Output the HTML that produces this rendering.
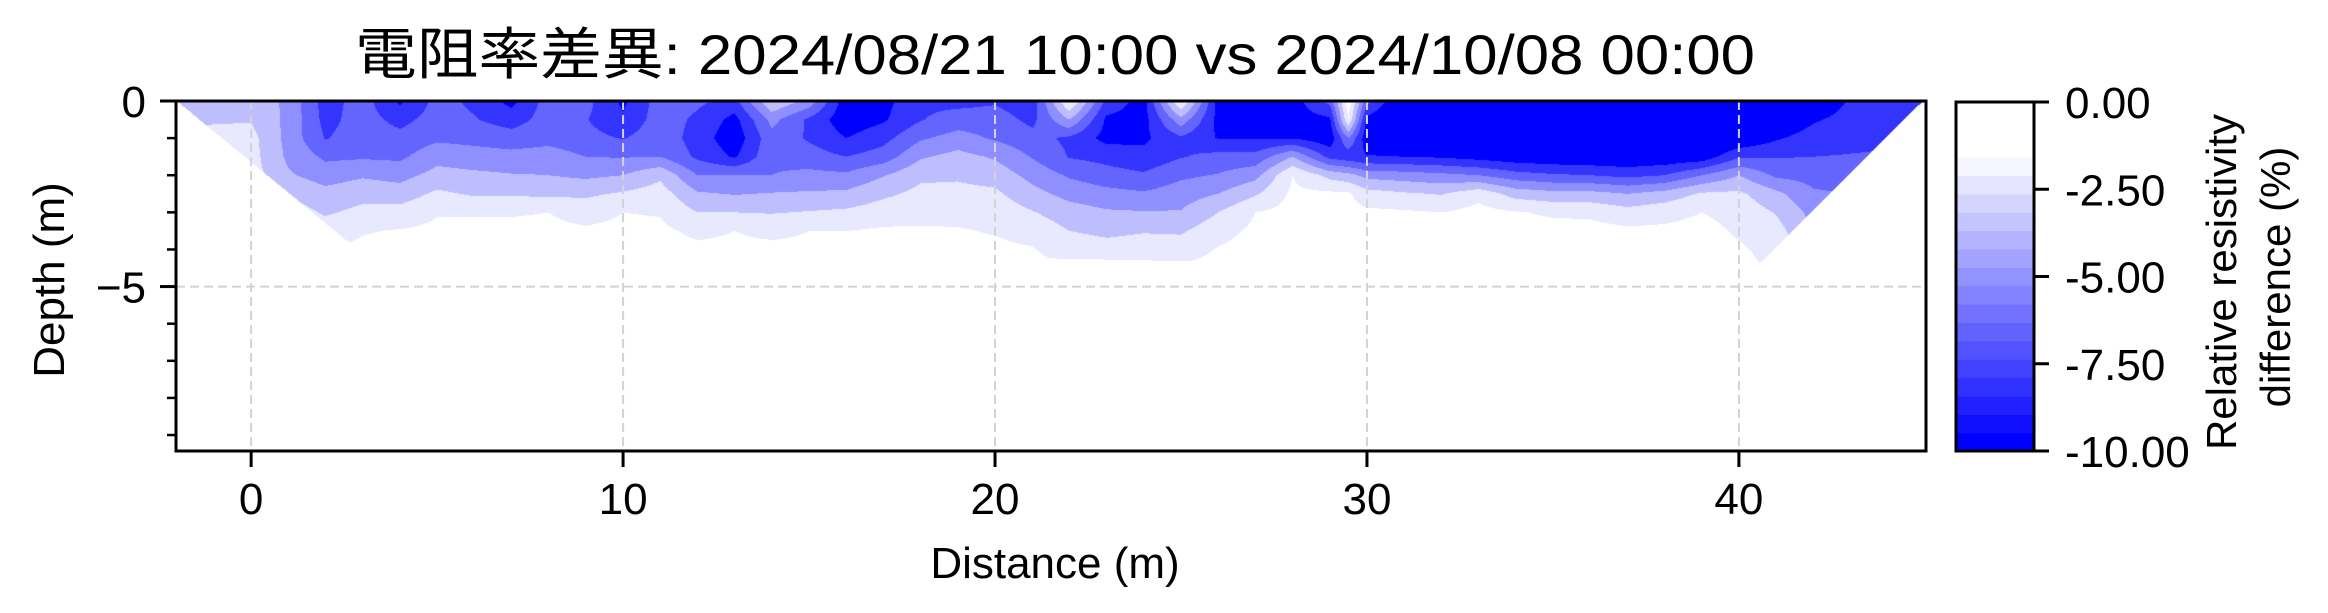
<!DOCTYPE html>
<html><head><meta charset="utf-8"><style>
html,body{margin:0;padding:0;background:#fff;}
#wrap{position:relative;width:2328px;height:613px;overflow:hidden;background:#fff;}
#field{position:absolute;left:176px;top:101px;}
svg{position:absolute;left:0;top:0;}
text{font-family:"Liberation Sans","Noto Sans CJK JP",sans-serif;fill:#000;}
</style></head><body>
<div id="wrap">
<canvas id="field" width="1750" height="350"></canvas>
<svg id="svg" width="2328" height="613"></svg>
</div>
<script>
const distances=[-2,-1,0,1,2,3,4,5,6,7,8,9,10,11,12,13,14,15,16,17,18,19,20,21,22,23,24,25,26,27,28,29,29.5,30,31,32,33,34,35,36,37,38,39,40,41,42,43,44,45];
const depths=[0,0.5,1,1.5,2,2.5,3,3.5,4,4.5];
const diffValues=[
[-3.6,-3.4,-3.0,-2.5,-2,-1.5,-1.2,-1,-1,-1],
[-3.6,-3.2,-2.4,-2.2,-2.0,-1.6,-1.2,-1,-1,-1],
[-3.6,-3.1,-2.5,-2.4,-2.3,-2.0,-1.5,-1,-1,-1],
[-4.8,-4.9,-5.0,-4.8,-4.3,-3.2,-2.2,-1.5,-1.2,-1],
[-8.2,-8.0,-7.6,-6.3,-5.2,-4.0,-3.2,-2.2,-1.5,-1.0],
[-6.8,-6.8,-6.7,-6.2,-4.7,-3.5,-2.6,-1.6,-1.2,-1.0],
[-9.3,-8.0,-7.0,-6.3,-5.0,-3.8,-2.4,-1.4,-1.0,-0.8],
[-7.0,-6.8,-6.3,-5.0,-4.0,-2.7,-1.6,-1.2,-1.0,-0.8],
[-7.8,-7.4,-6.5,-5.3,-4.2,-3.2,-1.6,-1.2,-1.0,-0.8],
[-9.5,-8.2,-6.8,-5.5,-4.4,-3.2,-1.6,-1.2,-1.0,-0.8],
[-6.8,-6.8,-6.5,-5.3,-4.5,-3.3,-1.5,-1.2,-1.0,-0.8],
[-7.0,-7.4,-7.0,-6.0,-4.8,-3.3,-2.0,-1.3,-1.0,-0.8],
[-9.3,-8.8,-7.6,-6.1,-4.5,-2.8,-1.5,-1.2,-1.0,-0.8],
[-6.8,-6.7,-6.5,-6.0,-3.3,-2.3,-1.6,-1.2,-1.0,-0.8],
[-7.2,-7.8,-8.2,-7.8,-6.0,-4.3,-3.0,-1.8,-1.2,-1.0],
[-8.0,-9.5,-10,-9.2,-6.0,-4.6,-3.0,-1.5,-1.2,-1.0],
[-3.0,-5.5,-6.5,-6.3,-6.0,-4.4,-3.1,-1.8,-1.2,-1.0],
[-5.0,-7.8,-7.7,-6.8,-5.6,-4.3,-2.9,-1.5,-1.2,-1.0],
[-10,-10,-9.0,-7.5,-5.7,-4.2,-2.7,-1.5,-1.2,-1.0],
[-9.5,-9.2,-8.0,-6.8,-4.6,-3.3,-2.2,-1.3,-1.1,-1.0],
[-7.8,-7.6,-6.2,-4.7,-3.3,-2.6,-2.0,-1.3,-1.0,-1.0],
[-8.0,-6.8,-5.4,-4.0,-3.2,-2.6,-1.9,-1.4,-1.1,-1.0],
[-7.7,-6.8,-6.2,-4.7,-3.6,-2.7,-2.0,-1.6,-1.2,-1.0],
[-8.5,-7.9,-7.0,-6.1,-5.0,-4.0,-2.9,-2.0,-1.4,-1.0],
[-1.2,-4.5,-7.8,-7.6,-6.2,-5.0,-3.8,-3.0,-2.2,-1.5],
[-8.0,-9.3,-9.5,-8.0,-6.9,-5.5,-4.3,-3.3,-2.5,-1.6],
[-9.6,-9.6,-9.3,-8.5,-7.3,-5.8,-4.4,-3.1,-2.3,-1.55],
[-1.2,-5.0,-7.8,-7.6,-6.3,-5.2,-4.4,-3.2,-2.2,-1.3],
[-9.6,-9.5,-9.1,-7.0,-5.9,-4.5,-3.0,-2.0,-1.4,-1.0],
[-9.7,-9.6,-9.1,-7.0,-5.0,-3.2,-1.5,-1.2,-1.0,-1.0],
[-9.8,-9.7,-9.1,-4.5,-1.5,-1.2,-1.0,-1.0,-1.0,-1.0],
[-7.0,-9.3,-10,-8.0,-3.5,-1.2,-1.0,-1.0,-1.0,-1.0],
[-0.5,-1.5,-6.0,-8.5,-4.0,-1.3,-1.0,-1.0,-1.0,-1.0],
[-7.0,-9.5,-10,-8.9,-5.0,-2.4,-1.2,-1.0,-1.0,-1.0],
[-11,-11,-10.5,-9.0,-5.3,-2.8,-1.3,-1.0,-1.0,-1.0],
[-11,-11,-10.5,-9.2,-5.6,-3.1,-1.5,-1.0,-1.0,-1.0],
[-11,-11,-10.5,-9.6,-6.0,-2.0,-1.0,-1.0,-1.0,-1.0],
[-11,-11,-11,-10,-6.9,-3.6,-1.4,-1.0,-1.0,-1.0],
[-11,-11,-11,-10.2,-7.3,-4.0,-1.7,-1.0,-1.0,-1.0],
[-11,-11,-11,-10.3,-7.5,-4.0,-1.8,-1.0,-1.0,-1.0],
[-11,-11,-11,-10.4,-7.9,-4.5,-2.4,-1.2,-1.0,-1.0],
[-11,-11,-11,-10.2,-7.5,-3.9,-2.0,-1.2,-1.0,-1.0],
[-11,-11,-11,-10,-6.0,-2.8,-1.5,-1.0,-1.0,-1.0],
[-11,-11,-10.5,-7.7,-4.5,-2.7,-2.0,-1.7,-1.3,-1.0],
[-11,-10.5,-9.2,-7.6,-6.3,-4.1,-3.1,-2.4,-2.0,-1.8],
[-10.5,-9.2,-8.3,-7.5,-6.5,-5.8,-5.0,-4.5,-4,-4],
[-8.8,-8.4,-8.0,-7.4,-6.8,-6,-6,-6,-6,-6],
[-8.5,-8.2,-7.8,-7.3,-7,-7,-7,-7,-7,-7],
[-8,-8,-8,-8,-8,-8,-8,-8,-8,-8]
];
const hullX=[-2,2.68,40.3,44.95];
const hullD=[0,3.85,4.63,0];
const bandEdges=[-1.5,-3,-4.5,-6,-7.5,-9];
const bandShades=[232,190,143,100,52,0];
const xTicks=[0,10,20,30,40];
const yTicks=[0,-5];
const yMinor=[-1,-2,-3,-4,-6,-7,-8,-9];
const cbTicks=[0,-2.5,-5,-7.5,-10];
const cbLabels=["0.00","-2.50","-5.00","-7.50","-10.00"];
const cbLevelCount=19;

const X0=176,X1=1926,Y0=101,Y1=451,XMIN=-2.02,XMAX=45.03,YMAX=0,YMIN=-9.43;
const sx=v=>X0+(v-XMIN)/(XMAX-XMIN)*(X1-X0);
const sy=v=>Y0+(YMAX-v)/(YMAX-YMIN)*(Y1-Y0);
const CB0=1956,CB1=2034,CBT=102,CBB=451;
const cy=v=>CBT+(0-v)/10*(CBB-CBT);

function inHull(x,d){
  const n=hullX.length;let inside=false;
  for(let i=0,j=n-1;i<n;j=i++){
    const xi=hullX[i],yi=hullD[i],xj=hullX[j],yj=hullD[j];
    if(((yi>d)!=(yj>d))&&(x<(xj-xi)*(d-yi)/(yj-yi)+xi)) inside=!inside;
  }
  return inside;
}
function valueAt(x,d){
  let i=0;while(i<distances.length-2&&distances[i+1]<x)i++;
  let tx=(x-distances[i])/(distances[i+1]-distances[i]);tx=Math.max(0,Math.min(1,tx));
  const dd=Math.min(d,depths[depths.length-1]);
  let j=0;while(j<depths.length-2&&depths[j+1]<dd)j++;
  let ty=(dd-depths[j])/(depths[j+1]-depths[j]);ty=Math.max(0,Math.min(1,ty));
  const a=diffValues[i][j],b=diffValues[i+1][j],c=diffValues[i][j+1],e=diffValues[i+1][j+1];
  return (a*(1-tx)+b*tx)*(1-ty)+(c*(1-tx)+e*tx)*ty;
}
(function(){
  const cv=document.getElementById('field');const ctx=cv.getContext('2d');
  const W=cv.width,H=cv.height;const img=ctx.createImageData(W,H);
  for(let py=0;py<H;py++){
    const d=-(YMAX-(py+0.5)/(Y1-Y0)*(YMAX-YMIN));
    for(let px=0;px<W;px++){
      const x=XMIN+(px+0.5)/(X1-X0)*(XMAX-XMIN);
      let r=255,g=255,b=255;
      if(inHull(x,d)){
        const v=valueAt(x,d);
        for(let k=bandEdges.length-1;k>=0;k--){ if(v<=bandEdges[k]){r=g=bandShades[k];break;} }
      }
      const o=(py*W+px)*4;img.data[o]=r;img.data[o+1]=g;img.data[o+2]=b;img.data[o+3]=255;
    }
  }
  ctx.putImageData(img,0,0);
})();

const NS='http://www.w3.org/2000/svg';
const svg=document.getElementById('svg');
function mk(tag,attrs){const el=document.createElementNS(NS,tag);for(const k in attrs)el.setAttribute(k,attrs[k]);svg.appendChild(el);return el;}

xTicks.forEach(t=>{
  const l=mk('line',{x1:sx(t),x2:sx(t),y1:Y0,y2:Y1,stroke:'#d3d3d3','stroke-width':2,'stroke-dasharray':'9,5'});
  
  
});
yTicks.forEach(t=>{
  const l=mk('line',{x1:X0,x2:X1,y1:sy(t),y2:sy(t),stroke:'#d3d3d3','stroke-width':2,'stroke-dasharray':'9,5'});
  
  
});
const fr=mk('rect',{x:X0,y:Y0,width:X1-X0,height:Y1-Y0,fill:'none',stroke:'#000','stroke-width':3});


xTicks.forEach(t=>{
  const l=mk('line',{x1:sx(t),x2:sx(t),y1:Y1,y2:Y1+16,stroke:'#000','stroke-width':3});
  
  
  const tx=mk('text',{x:sx(t),y:514,'text-anchor':'middle','font-size':44});
  tx.textContent=String(t);
  
  
});
yTicks.forEach(t=>{
  const l=mk('line',{x1:X0-16,x2:X0,y1:sy(t),y2:sy(t),stroke:'#000','stroke-width':3});
  
  
  const tx=mk('text',{x:146,y:sy(t)+16,'text-anchor':'end','font-size':44});
  tx.textContent=t===0?'0':'\u2212'+Math.abs(t);
  
  
});
yMinor.forEach(t=>{
  const l=mk('line',{x1:X0-9,x2:X0,y1:sy(t),y2:sy(t),stroke:'#000','stroke-width':2.5});
  
  
});
const t1=mk('text',{x:1055,y:578,'text-anchor':'middle','font-size':44});
t1.textContent='Distance (m)';


const t2=mk('text',{x:0,y:0,'text-anchor':'middle','font-size':44,transform:'translate(64,280) rotate(-90)'});
t2.textContent='Depth (m)';


const t3=mk('text',{x:1055,y:74,'text-anchor':'middle','font-size':56,textLength:1400,lengthAdjust:'spacingAndGlyphs'});
t3.textContent='電阻率差異: 2024/08/21 10:00 vs 2024/10/08 00:00';



for(let i=0;i<cbLevelCount;i++){
  const lo=-10+i*10/cbLevelCount, hi=-10+(i+1)*10/cbLevelCount;
  const c=i>=16?255:Math.round(i*16.3);
  const r=mk('rect',{x:CB0,y:cy(hi),width:CB1-CB0,height:cy(lo)-cy(hi)+0.6,fill:`rgb(${c},${c},255)`});
  
  
}
const cbf=mk('rect',{x:CB0,y:CBT,width:CB1-CB0,height:CBB-CBT,fill:'none',stroke:'#000','stroke-width':3});


cbTicks.forEach((t,i)=>{
  const l=mk('line',{x1:CB1,x2:CB1+15,y1:cy(t),y2:cy(t),stroke:'#000','stroke-width':3});
  
  
  const tx=mk('text',{x:2065,y:cy(t)+16,'font-size':44});
  tx.textContent=cbLabels[i];
  
  
});
const c1=mk('text',{x:0,y:0,'text-anchor':'middle','font-size':42,transform:'translate(2236,282) rotate(-90)'});
c1.textContent='Relative resistivity';


const c2=mk('text',{x:0,y:0,'text-anchor':'middle','font-size':42,transform:'translate(2290,277) rotate(-90)'});
c2.textContent='difference (%)';


</script>
</body></html>
